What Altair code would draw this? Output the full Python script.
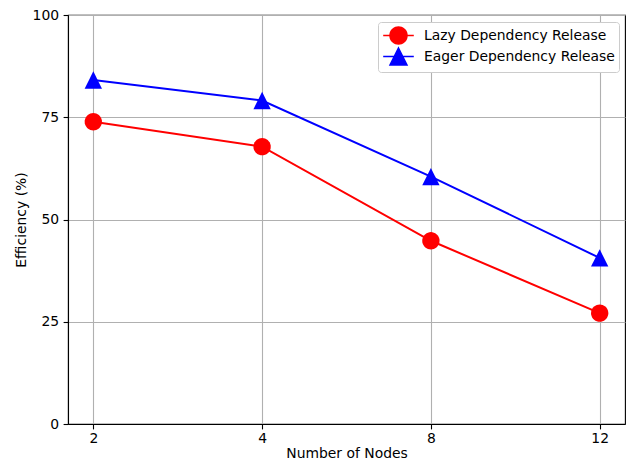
import math
import altair as alt
import pandas as pd

nodes = ["2", "4", "8", "12"]
lazy = [73.9, 67.8, 44.8, 27.1]
eager = [84.1, 79.1, 60.5, 40.6]
series_names = ["Lazy Dependency Release", "Eager Dependency Release"]
series_colors = ["#ff0000", "#0000ff"]

rows = []
for n, v in zip(nodes, lazy):
    rows.append({"nodes": n, "eff": v, "series": series_names[0]})
for n, v in zip(nodes, eager):
    rows.append({"nodes": n, "eff": v, "series": series_names[1]})
df = pd.DataFrame(rows)

FONT = "DejaVu Sans"
FS = 13.9

# marker outlines (unit shapes in [-1, 1])
circle_poly = "M" + "L".join(
    f"{math.cos(2 * math.pi * k / 36):.4f},{math.sin(2 * math.pi * k / 36):.4f}"
    for k in range(36)
) + "Z"
tri = "M0,-1L1,1L-1,1Z"
marker_paths = [circle_poly, tri]
legend_paths = ["M-1.8,0H1.8" + circle_poly, "M-1.8,0H1.8" + tri]

x_enc = alt.X(
    "nodes:O",
    sort=nodes,
    scale=alt.Scale(type="point", padding=0.15),
    axis=alt.Axis(title="Number of Nodes", labelAngle=0),
)
y_enc = alt.Y(
    "eff:Q",
    scale=alt.Scale(domain=[0, 100], nice=False, zero=True),
    axis=alt.Axis(title="Efficiency (%)", values=[0, 25, 50, 75, 100]),
)

base = alt.Chart(df)

lines = base.mark_line(strokeWidth=2).encode(
    x=x_enc,
    y=y_enc,
    stroke=alt.Stroke(
        "series:N",
        scale=alt.Scale(domain=series_names, range=series_colors),
        legend=None,
    ),
)

points = base.mark_point(filled=True, size=300, opacity=1).encode(
    x=x_enc,
    y=y_enc,
    fill=alt.Fill(
        "series:N",
        scale=alt.Scale(domain=series_names, range=series_colors),
        legend=None,
    ),
    shape=alt.Shape(
        "series:N",
        scale=alt.Scale(domain=series_names, range=marker_paths),
        legend=None,
    ),
)

leg = alt.Legend(
    title=None,
    orient="none",
    legendX=310,
    legendY=7,
    padding=4,
    symbolOffset=7,
    labelFont=FONT,
    labelFontSize=FS,
    labelColor="black",
    labelOffset=16,
    labelLimit=0,
    rowPadding=-8,
    strokeColor="#cccccc",
    fillColor="white",
    cornerRadius=3,
    symbolSize=289,
    symbolStrokeWidth=1.5,
    symbolOpacity=1,
)

dummy = base.mark_point(filled=True, size=289, opacity=0, strokeWidth=1.5).encode(
    x=x_enc,
    y=y_enc,
    fill=alt.Fill(
        "series:N",
        scale=alt.Scale(domain=series_names, range=series_colors),
        legend=leg,
    ),
    stroke=alt.Stroke(
        "series:N",
        scale=alt.Scale(domain=series_names, range=series_colors),
        legend=leg,
    ),
    shape=alt.Shape(
        "series:N",
        scale=alt.Scale(domain=series_names, range=legend_paths),
        legend=leg,
    ),
)

chart = (
    alt.layer(lines, points, dummy)
    .resolve_scale(stroke="independent", fill="independent", shape="independent")
    .properties(
        width=557,
        height=409,
        autosize=alt.AutoSizeParams(type="none"),
        padding={"left": 60, "top": 7, "right": 1, "bottom": 37},
        background="white",
    )
    .configure_view(stroke="black", strokeWidth=1.1)
    .configure_axis(
        grid=True,
        gridColor="#b0b0b0",
        gridWidth=1.1,
        domainColor="black",
        domainWidth=1.1,
        tickColor="black",
        tickSize=4.9,
        tickWidth=1.1,
        labelPadding=3,
        labelFont=FONT,
        labelFontSize=FS,
        labelColor="black",
        titleFont=FONT,
        titleFontSize=FS,
        titleFontWeight="normal",
        titleColor="black",
    )
    .configure_axisX(titlePadding=1)
    .configure_axisY(titlePadding=4, labelPadding=4.5)
)

chart.save("out.html", embed_options={"renderer": "svg", "actions": False})
